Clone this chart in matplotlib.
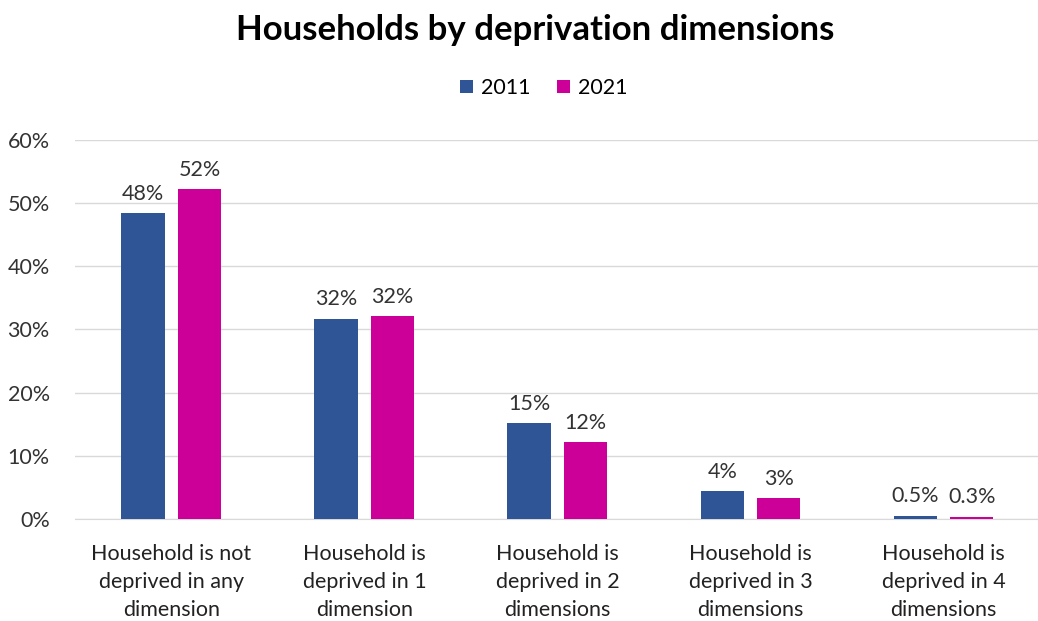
import matplotlib
matplotlib.use("Agg")
import matplotlib.pyplot as plt
import numpy as np

# data
categories = [
    "Household is not\ndeprived in any\ndimension",
    "Household is\ndeprived in 1\ndimension",
    "Household is\ndeprived in 2\ndimensions",
    "Household is\ndeprived in 3\ndimensions",
    "Household is\ndeprived in 4\ndimensions",
]
vals_2011 = [48.4, 31.7, 15.2, 4.4, 0.55]
vals_2021 = [52.2, 32.1, 12.2, 3.3, 0.35]
labels_2011 = ["48%", "32%", "15%", "4%", "0.5%"]
labels_2021 = ["52%", "32%", "12%", "3%", "0.3%"]
yticks = [0, 10, 20, 30, 40, 50, 60]

plt.rcParams["font.family"] = ["Lato", "DejaVu Sans"]

fig = plt.figure(figsize=(10.38, 6.21), dpi=100)
ax = fig.add_axes([0.072, 0.164, 0.93, 0.611])

x = np.arange(len(categories))
w = 0.225
off = 0.146
c1 = "#2F5597"
c2 = "#CC0099"

b1 = ax.bar(x - off, vals_2011, w, color=c1, label="2011", zorder=3)
b2 = ax.bar(x + off, vals_2021, w, color=c2, label="2021", zorder=3)

for rect, lab in zip(b1, labels_2011):
    ax.text(rect.get_x() + rect.get_width() / 2, rect.get_height() + 1.5, lab,
            ha="center", va="bottom", fontsize=15.5, color="#333333")
for rect, lab in zip(b2, labels_2021):
    ax.text(rect.get_x() + rect.get_width() / 2, rect.get_height() + 1.5, lab,
            ha="center", va="bottom", fontsize=15.5, color="#333333")

ax.set_xlim(-0.5, 4.5)
ax.set_ylim(0, 60)
ax.set_yticks(yticks)
ax.set_yticklabels([f"{t}%" for t in yticks], fontsize=15.5, color="#333333")
ax.set_xticks(x)
ax.set_xticklabels(categories, fontsize=15.5, color="#222222", linespacing=1.5)
ax.tick_params(axis="x", length=0, pad=18)
ax.tick_params(axis="y", length=0, pad=18)

ax.grid(axis="y", color="#D9D9D9", linewidth=1, zorder=0)
for s in ["top", "right", "left"]:
    ax.spines[s].set_visible(False)
ax.spines["bottom"].set_color("#D9D9D9")

fig.suptitle("Households by deprivation dimensions", x=0.516, y=0.978, fontsize=25,
             fontweight="bold", color="black")
fig.legend(loc="center", bbox_to_anchor=(0.524, 0.858), ncol=2, frameon=False,
           fontsize=15.5, handlelength=0.6, handleheight=0.6, handletextpad=0.4,
           columnspacing=1.2)

fig.savefig("out.png", dpi=100)
